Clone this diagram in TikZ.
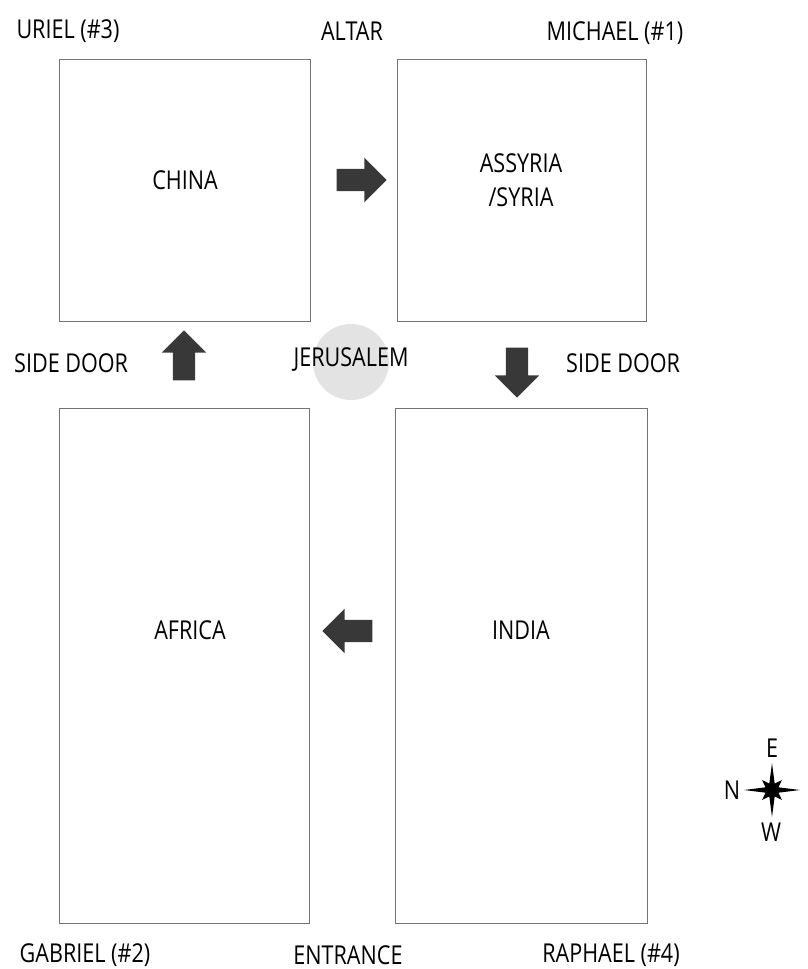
\documentclass[tikz,border=0pt]{standalone}
\usepackage{fontspec}
\setmainfont[FakeStretch=0.83]{Open Sans}
\usetikzlibrary{shapes.arrows}
\begin{document}
\begin{tikzpicture}[x=1pt,y=-1pt,
  room/.style={draw=black!55, line width=1.3pt, minimum width=#1, inner sep=0, anchor=north west},
  lbl/.style={font=\fontsize{26}{30}\selectfont, text=black, inner sep=0},
  flow/.style={single arrow, fill=black!78, draw=none, inner sep=11pt,
    minimum height=50pt, minimum width=44pt, single arrow head extend=11pt}]
\useasboundingbox (0,0) rectangle (807,969);

% rooms
\node[room=251pt, minimum height=262pt] (china)   at (59,59)   {};
\node[room=249pt, minimum height=262pt] (assyria) at (397,59)  {};
\node[room=250pt, minimum height=515pt] (africa)  at (59,408)  {};
\node[room=252pt, minimum height=515pt] (india)   at (395,408) {};

% the centre
\node[circle, fill=black!11, minimum size=76pt, inner sep=0] (centre) at (351,362) {};
\node[lbl] (jerusalem) at (351,360) {JERUSALEM};

% room names
\node[lbl] at (185,180) {CHINA};
\node[lbl, align=center, font=\fontsize{26}{34}\selectfont] at (521,180) {ASSYRIA\\/SYRIA};
\node[lbl] at (190,630) {AFRICA};
\node[lbl] at (521,630) {INDIA};

% corner and door labels
\node[lbl] at (68,31)   {URIEL (\#3)};
\node[lbl] at (352,31)  {ALTAR};
\node[lbl] at (615,33)  {MICHAEL (\#1)};
\node[lbl, anchor=west] at (14,363)  {SIDE DOOR};
\node[lbl, anchor=west] at (566,363) {SIDE DOOR};
\node[lbl] at (85,955)  {GABRIEL (\#2)};
\node[lbl] at (348,955) {ENTRANCE};
\node[lbl] at (611,955) {RAPHAEL (\#4)};

% direction of travel
\node[flow] (toassyria) at (356,180) {};
\node[flow, shape border rotate=270] (toindia) at (517,367) {};
\node[flow, shape border rotate=180] (toafrica) at (353,631) {};
\node[flow, shape border rotate=90] (tochina) at (184,361) {};

% compass rose
\coordinate (rose) at (772,790);
\fill[black, shift={(rose)}]
  (0:28) -- (22.5:7) -- (45:14) -- (67.5:7) -- (90:27) -- (112.5:7)
  -- (135:14) -- (157.5:7) -- (180:28) -- (202.5:7) -- (225:14)
  -- (247.5:7) -- (270:27) -- (292.5:7) -- (315:14) -- (337.5:7) -- cycle;
\node[lbl] (east)  at (772,748) {E};
\node[lbl] (north) at (732,790) {N};
\node[lbl] (west)  at (771,832) {W};
\end{tikzpicture}
\end{document}
